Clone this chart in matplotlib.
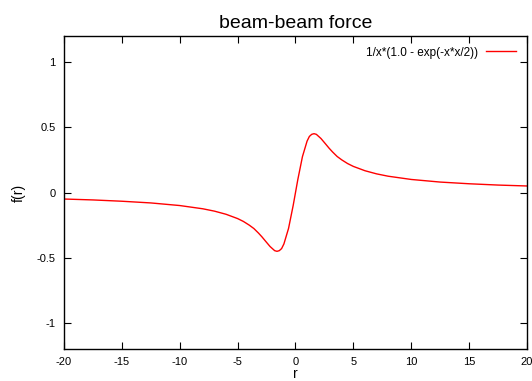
import matplotlib
matplotlib.use("Agg")
import matplotlib.pyplot as plt

plt.rcParams['font.family'] = ['Liberation Sans', 'DejaVu Sans']

# values
r_vals = [-20, -17.5, -15, -12.5, -10, -8, -7, -6, -5, -4.5, -4, -3.6, -3.2, -2.9, -2.6,
          -2.2, -1.8, -1.6, -1.4, -1.2, -1.0, -0.6, -0.2,
          0.2, 0.6, 1.0, 1.2, 1.4, 1.6, 1.8, 2.2, 2.6, 2.9, 3.2, 3.6,
          4, 4.5, 5, 6, 7, 8, 10, 12.5, 15, 17.5, 20]
f_vals = [-0.050, -0.057, -0.067, -0.080, -0.100, -0.125, -0.143, -0.167, -0.200, -0.222,
          -0.250, -0.276, -0.311, -0.340, -0.372, -0.414, -0.446, -0.451, -0.446, -0.430,
          -0.394, -0.275, -0.099,
          0.099, 0.275, 0.394, 0.430, 0.446, 0.451, 0.446, 0.414, 0.372, 0.340,
          0.311, 0.276, 0.250, 0.222, 0.200, 0.167, 0.143, 0.125, 0.100, 0.080, 0.067,
          0.057, 0.050]
x_ticks = [-20, -15, -10, -5, 0, 5, 10, 15, 20]
y_ticks = [-1, -0.5, 0, 0.5, 1]
y_tick_labels = ["-1", "-0.5", "0", "0.5", "1"]

fig = plt.figure(figsize=(5.32, 3.81), dpi=100)
ax = fig.add_axes([0.1203, 0.084, 0.8703, 0.8215])
ax.plot(r_vals, f_vals, color='#ff0000', lw=1.0, label='1/x*(1.0 - exp(-x*x/2))')
ax.set_xlim(-20, 20)
ax.set_ylim(-1.2, 1.2)
ax.set_xticks(x_ticks)
ax.set_xticklabels([str(t) for t in x_ticks])
ax.set_yticks(y_ticks)
ax.set_yticklabels(y_tick_labels)
ax.tick_params(direction='in', top=True, right=True, length=5, width=0.8,
               labelsize=8, pad=6)
for s in ax.spines.values():
    s.set_linewidth(1.0)
ax.set_title('beam-beam force', fontsize=14, pad=6)
ax.set_xlabel('r', fontsize=10, labelpad=0)
ax.set_ylabel('f(r)', fontsize=10, labelpad=8)
ax.legend(loc='upper right', frameon=False, markerfirst=False, fontsize=8.5,
          handlelength=2.6, borderaxespad=0.5, handletextpad=0.6)
fig.savefig('out.png', dpi=100)
